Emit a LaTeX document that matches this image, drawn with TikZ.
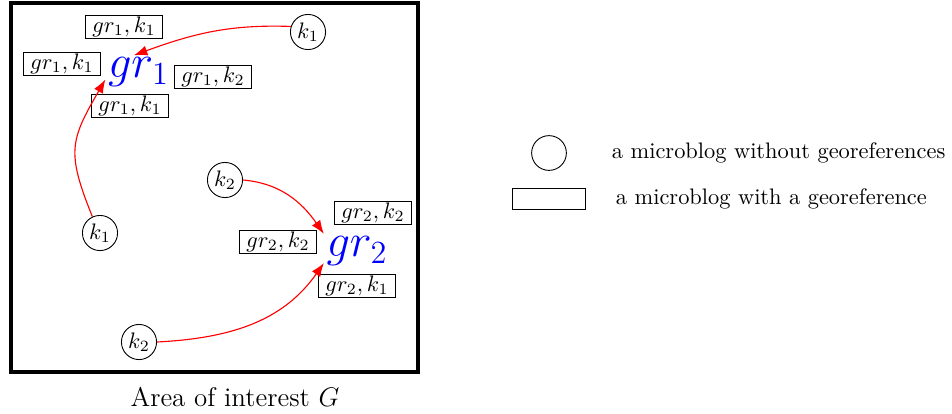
\documentclass[tikz,border=0pt]{standalone}
\usepackage{amsmath,amssymb}
\usepackage{tikz}
\usetikzlibrary{arrows.meta,positioning}

\begin{document}
\begin{tikzpicture}[
    x=0.446pt,y=0.446pt,
    mb/.style     = {circle, draw, minimum size=15.5pt, inner sep=1pt},
    geo/.style    = {rectangle, draw, inner xsep=3pt, inner ysep=0.8pt},
    grp/.style    = {text=blue, font=\huge, inner sep=1pt},
    link/.style   = {-{Latex[length=6pt,width=4.5pt]}, red, line width=0.5pt},
    frame/.style  = {line width=1.35pt},
    legtxt/.style = {anchor=west},
  ]

  \useasboundingbox (0,0) rectangle (952,-413);

  % area of interest
  \draw[frame] (11,-3) rectangle (418,-372);
  \node[font=\large] (cap) at (235,-397) {Area of interest $G$};

  \node[grp] (gr1) at (138.5,-72.5) {$gr_1$};
  \node[grp] (gr2) at (357,-251)    {$gr_2$};

  \node[geo] (g1a) at (124,-27)  {$gr_1,k_1$};
  \node[geo] (g1b) at (62,-64)   {$gr_1,k_1$};
  \node[geo] (g1c) at (213,-77)  {$gr_1,k_2$};
  \node[geo] (g1d) at (130,-106) {$gr_1,k_1$};

  \node[geo] (g2a) at (373,-213) {$gr_2,k_2$};
  \node[geo] (g2b) at (278,-242) {$gr_2,k_2$};
  \node[geo] (g2c) at (357,-286) {$gr_2,k_1$};

  \node[mb] (k1a) at (308,-32)  {$k_1$};
  \node[mb] (k1b) at (100,-233) {$k_1$};
  \node[mb] (k2a) at (225,-180) {$k_2$};
  \node[mb] (k2b) at (139,-342) {$k_2$};

  \draw[link] (k1a.162)  to[out=178,in=20]  (gr1.105);
  \draw[link] (k1b.115)  to[out=112,in=240,looseness=1.3] (gr1.192);
  \draw[link] (k2a.east) to[out=-5,in=125]  (gr2.north west);
  \draw[link] (k2b.east) to[out=3,in=235]   (gr2.200);

  % legend
  \node[mb]  (legc) at (549,-153) {};
  \node[rectangle, draw, minimum width=32.6pt, minimum height=9pt] (legr) at (549,-199) {};
  \node[legtxt] (legct) at (604,-153) {a microblog without georeferences};
  \node[legtxt] (legrt) at (608,-199) {a microblog with a georeference};

\end{tikzpicture}
\end{document}
